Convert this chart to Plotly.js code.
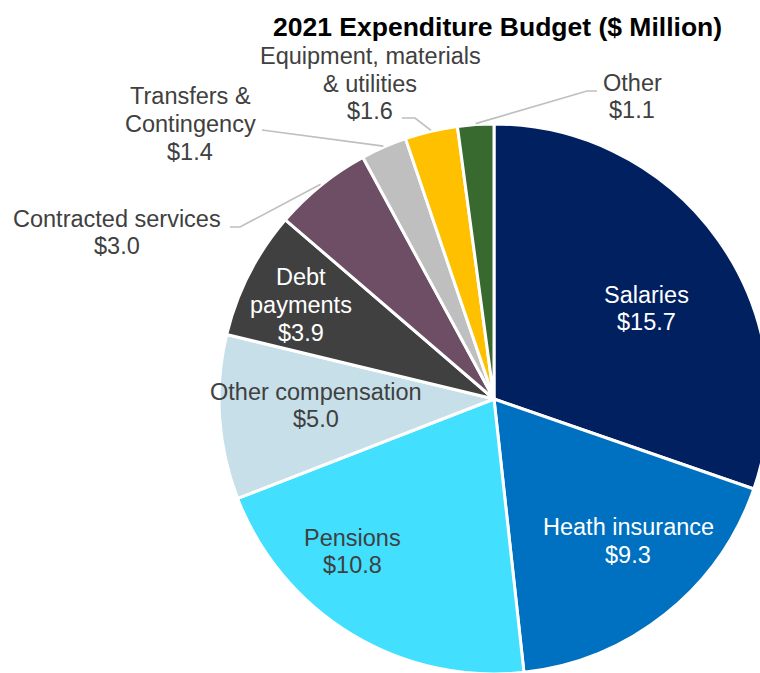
<!DOCTYPE html>
<html>
<head>
<meta charset="utf-8">
<script src="https://cdn.plot.ly/plotly-3.0.1.min.js"></script>
<style>
  html, body { margin: 0; padding: 0; overflow: hidden; background: #ffffff; }
  #chart { width: 800px; height: 700px; }
</style>
</head>
<body>
<div id="chart"></div>
<script>
// 2021 expenditure budget, $ million, clockwise from 12 o'clock
const categories = ['Salaries', 'Heath insurance', 'Pensions', 'Other compensation',
  'Debt payments', 'Contracted services', 'Transfers & Contingency',
  'Equipment, materials & utilities', 'Other'];
const amounts = [15.7, 9.3, 10.8, 5.0, 3.9, 3.0, 1.4, 1.6, 1.1];
// how each category name wraps in its label
const labelLines = [['Salaries'], ['Heath insurance'], ['Pensions'], ['Other compensation'],
  ['Debt', 'payments'], ['Contracted services'], ['Transfers &', 'Contingency'],
  ['Equipment, materials', '& utilities'], ['Other']];

const sliceColors = ['#002060', '#0070C0', '#42DFFE', '#C7DFE9', '#404040',
  '#6E4E64', '#BFBFBF', '#FFC000', '#38692F'];
const DARK = '#404040';
const labelColors = ['#ffffff', '#ffffff', DARK, DARK, '#ffffff', DARK, DARK, DARK, DARK];

// layout geometry (pixels)
const W = 800, H = 700;
const CX = 494, CY = 399, R = 275;
const LINE_STEP = 27.7;
const FONT = 'Liberation Sans, Arial, sans-serif';
// label block centres
const labelCenters = [[646, 308.5], [628, 541], [352, 551.5], [316, 405.5], [301, 305],
  [117, 232.5], [190, 124], [370, 83.5], [632, 96.5]];
// leader line bends for the outside labels (index -> points after the slice edge)
const leaders = {
  5: [[240, 227], [230, 227]],
  6: [[262, 130]],
  7: [[415, 118], [402, 118]],
  8: [[587, 91], [597, 91]]
};

const px = x => x / W;
const py = y => 1 - y / H;

const total = amounts.reduce((a, b) => a + b, 0);
let cum = 0;
const midAngles = amounts.map(v => {
  const a = (cum + v / 2) / total * 2 * Math.PI;
  cum += v;
  return a;
});

const annotations = [];
labelLines.forEach((lines, i) => {
  const all = lines.concat(['$' + amounts[i].toFixed(1)]);
  const n = all.length;
  const [cx, cy] = labelCenters[i];
  all.forEach((t, j) => {
    annotations.push({
      xref: 'paper', yref: 'paper',
      x: px(cx), y: py(cy + (j - (n - 1) / 2) * LINE_STEP),
      xanchor: 'center', yanchor: 'middle',
      text: t, showarrow: false,
      font: { family: FONT, size: 23.5, color: labelColors[i] }
    });
  });
});

annotations.push({
  xref: 'paper', yref: 'paper', x: px(497), y: py(27),
  xanchor: 'center', yanchor: 'middle', showarrow: false,
  text: '<b>2021 Expenditure Budget ($ Million)</b>',
  font: { family: FONT, size: 26.5, color: '#000000' }
});

const shapes = Object.keys(leaders).map(k => {
  const i = Number(k);
  const a = midAngles[i];
  const sx = CX + (R + 1) * Math.sin(a);
  const sy = CY - (R + 1) * Math.cos(a);
  const pts = [[sx, sy]].concat(leaders[k]);
  const path = pts.map((p, j) => (j ? 'L' : 'M') + px(p[0]) + ',' + py(p[1])).join(' ');
  return {
    type: 'path', xref: 'paper', yref: 'paper', path: path,
    line: { color: '#BFBFBF', width: 1.6 }
  };
});

const trace = {
  type: 'pie',
  labels: categories,
  values: amounts,
  sort: false,
  direction: 'clockwise',
  rotation: 0,
  textinfo: 'none',
  hoverinfo: 'label+value',
  marker: { colors: sliceColors, line: { color: '#ffffff', width: 3 } },
  domain: { x: [px(CX - R), px(CX + R)], y: [py(CY + R), py(CY - R)] },
  showlegend: false
};

const layout = {
  width: W, height: H,
  margin: { l: 0, r: 0, t: 0, b: 0 },
  paper_bgcolor: '#ffffff',
  showlegend: false,
  annotations: annotations,
  shapes: shapes
};

Plotly.newPlot('chart', [trace], layout, { displayModeBar: false, staticPlot: true });
</script>
</body>
</html>
